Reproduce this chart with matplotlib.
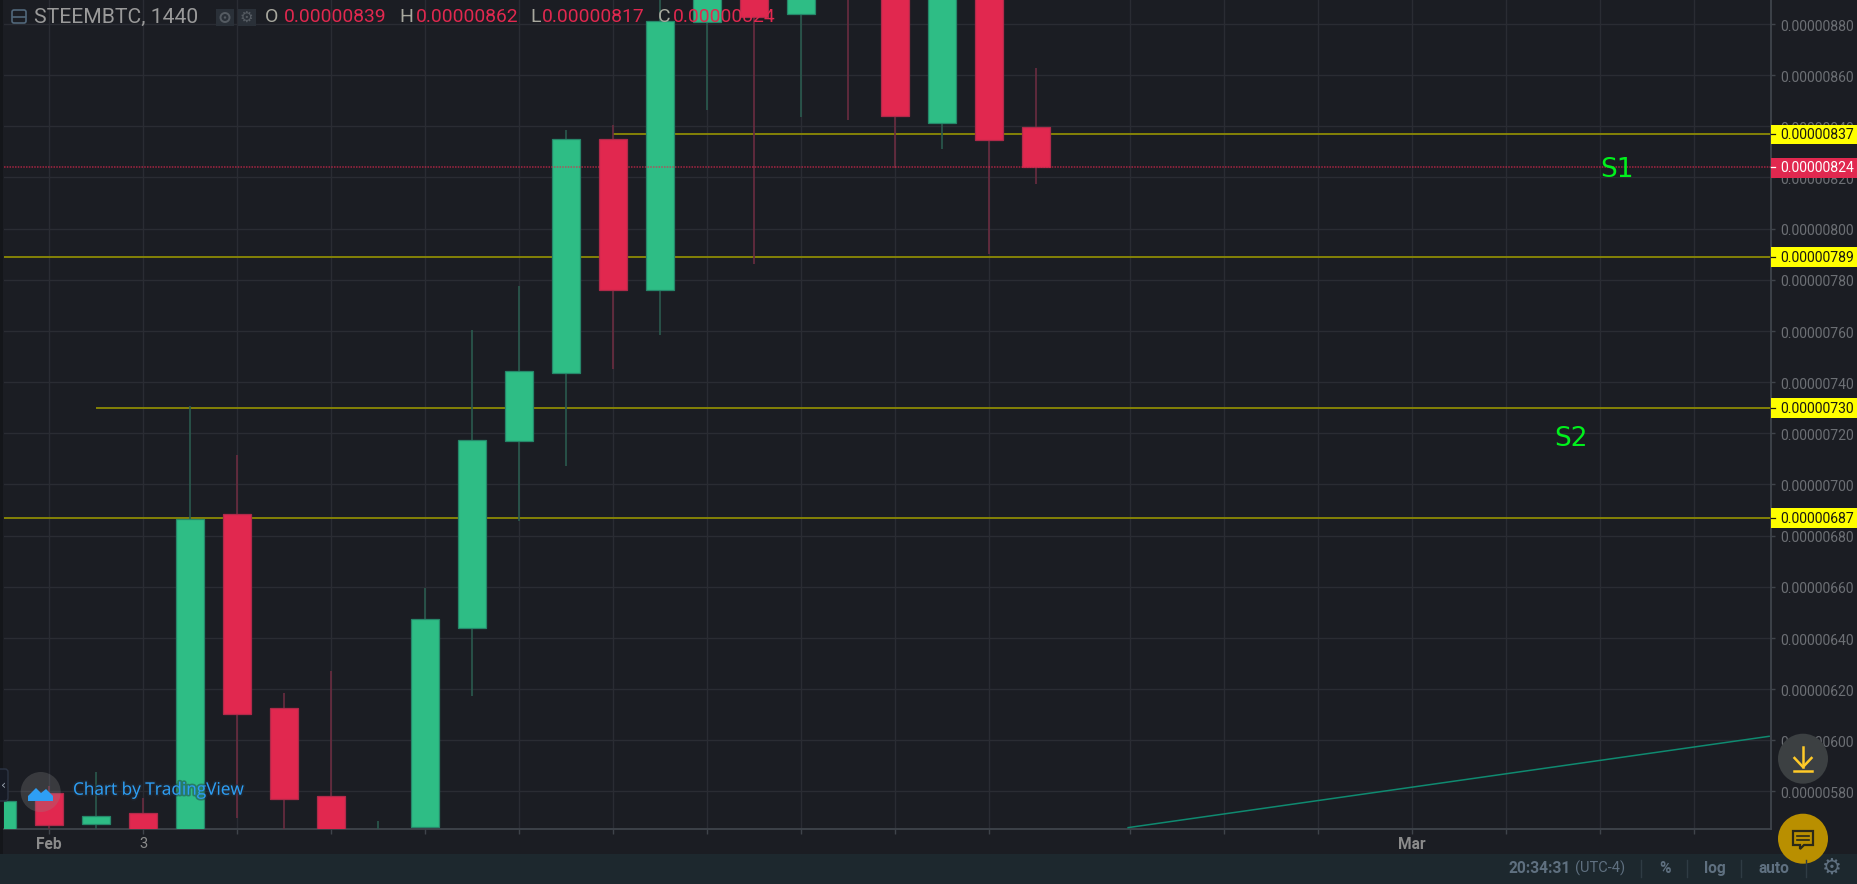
import matplotlib
matplotlib.use("Agg")
import matplotlib.pyplot as plt
import matplotlib.patheffects as pe
from matplotlib.patches import Rectangle, Circle, FancyBboxPatch, Polygon
from matplotlib.transforms import ScaledTranslation

W, H, DPI = 1857, 884, 100

# ---- data (prices in units of 1e-8 BTC, x = day slot on the chart) ----
days   = [0, 1, 2, 3, 4, 5, 6, 7, 8, 9, 10, 11, 12, 13, 14, 15, 16, 17, 18, 19, 20, 21, 22]
opens  = [560, 579.3, 567.1, 571.4, 550, 688.4, 612.4, 578.3, 555, 566.2, 643.8, 716.8, 743.7,
          835.2, 776, 880.9, 900, 884, 910, 905, 841.2, 905, 839.6]
closes = [576.3, 567, 570.5, 560, 686.5, 610.2, 576.9, 560, 562, 647.2, 717.2, 744.2, 835.2,
          776, 881.2, 900, 882.9, 900, 893, 844, 900, 834.8, 824.1]
highs  = [580, 582, 587.4, 577.4, 730.8, 711.5, 618.4, 627.2, 568.5, 659.5, 760.2, 777.4, 838.6,
          840.5, 905, 905, 905, 905, 915, 910, 905, 910, 862.7]
lows   = [550, 565, 560, 555, 540, 569.4, 560, 550, 550, 565.5, 617.4, 685.6, 707.3,
          745.1, 758.4, 846.5, 786.2, 843.6, 842.6, 823.6, 831.2, 790.1, 817.4]

level_values = [837, 789, 730, 687]
level_starts = [13, 0, 2, 0]
last_price = 824
trend_x = [23.96, 37.6]
trend_y = [565.8, 601.5]
price_ticks = list(range(580, 881, 20))
x_ticks = [1, 3, 5, 7, 9, 11, 13, 15, 17, 19, 21, 24, 26, 28, 30, 32, 34, 36]
x_tick_labels = {1: "Feb", 3: "3", 30: "Mar"}
notes = [("S1", 34.36, 822.8), ("S2", 33.38, 717.9)]
ohlc_values = ["0.00000839", "0.00000862", "0.00000817", "0.00000824"]
ohlc_names = ["O", "H", "L", "C"]

# ---- style ----
BG = "#1b1d23"; BAR = "#1d282e"; GRID = "#2a2c33"; AXIS = "#3f444b"
GREEN = "#2ebd85"; GREEN_E = "#26876a"; GREEN_W = "#2a5a4e"
RED = "#e1284f"; RED_E = "#b02a4a"; RED_W = "#6a2c40"
OLIVE = "#8c8a04"; TICKTXT = "#6c6f74"; FONT = "Roboto"

def fmt(v):
    return f"0.{int(v):08d}"

fig = plt.figure(figsize=(W / DPI, H / DPI), dpi=DPI, facecolor=BG)
L, R, T, B = 3.5, 1771, -1, 829
ax = fig.add_axes([L / W, 1 - B / H, (R - L) / W, (B - T) / H], facecolor=BG)
ax.set_xlim(0.0306, 37.64)
ax.set_ylim(565.26, 889.77)
ax.set_axisbelow(True)

# grid and ticks
ax.yaxis.tick_right()
ax.set_yticks(price_ticks)
ax.set_yticklabels([fmt(v) for v in price_ticks], fontfamily=FONT, fontsize=10.1, color=TICKTXT)
ax.set_xticks(x_ticks)
ax.set_xticklabels([x_tick_labels.get(t, "") for t in x_ticks], fontfamily=FONT, fontsize=10.5, color="#8b8b8b")
for lab, t in zip(ax.get_xticklabels(), x_ticks):
    if x_tick_labels.get(t) in ("Feb", "Mar"):
        lab.set_fontweight("bold")
        lab.set_fontsize(11.2)
ax.tick_params(axis="y", length=3, width=1, color=AXIS, pad=3.6)
ax.tick_params(axis="x", length=3.5, width=1, color=AXIS, pad=2.5)
ax.grid(True, color=GRID, lw=1.0)
for s in ("top", "left"):
    ax.spines[s].set_visible(False)
for s in ("right", "bottom"):
    ax.spines[s].set_color(AXIS)
    ax.spines[s].set_linewidth(1.3)

# y labels sit one pixel below their tick
down1 = ScaledTranslation(0, -1.2 / DPI, fig.dpi_scale_trans)
for lab in ax.get_yticklabels():
    lab.set_transform(lab.get_transform() + down1)

# horizontal levels
for v, s in zip(level_values, level_starts):
    ax.plot([s, 37.64], [v, v], color=OLIVE, lw=1.3, zorder=2, solid_capstyle="butt")

# candles
for d, o, c, h, l in zip(days, opens, closes, highs, lows):
    up = c >= o
    ax.plot([d, d], [l, h], color=GREEN_W if up else RED_W, lw=1.2, zorder=3, solid_capstyle="butt")
    ax.bar(d, abs(c - o), bottom=min(o, c), width=0.6, color=GREEN if up else RED,
           edgecolor=GREEN_E if up else RED_E, linewidth=0.9, zorder=4)

# last price line
ax.axhline(last_price, color=RED, lw=1.1, ls=(0, (1, 0.8)), alpha=0.7, zorder=5)

# trend line
ax.plot(trend_x, trend_y, color="#0f8a70", lw=1.1, zorder=3)

# notes
for txt, x, y in notes:
    ax.text(x, y, txt, color="#00f01c", fontsize=19, fontfamily="DejaVu Sans",
            ha="center", va="center", zorder=6)

# price badges on the axis
trans = ax.get_yaxis_transform()
def badge(v, face, tc):
    ax.add_patch(Rectangle((1.0, v - 4.1), 86 / (R - L), 7.8, transform=trans, facecolor=face,
                           edgecolor="none", clip_on=False, zorder=7))
    ax.plot([1.0, 1.0 + 4 / (R - L)], [v, v], transform=trans, color=tc, lw=0.9, clip_on=False, zorder=8)
    ax.text(1.0 + 9 / (R - L), v, fmt(v), transform=trans + down1, color=tc, fontfamily=FONT,
            fontsize=10.1, va="center", ha="left", clip_on=False, zorder=8)
for v in level_values:
    badge(v, "#ffff00", "#1a1a10")
badge(last_price, RED, "#ffffff")

# ---- UI overlay in pixel coordinates ----
ui = fig.add_axes([0, 0, 1, 1], facecolor="none", zorder=10)
ui.set_xlim(0, W); ui.set_ylim(H, 0); ui.axis("off")

ui.add_patch(Rectangle((0, 0), 3, 854, facecolor="#14161a", edgecolor="none"))
ui.add_patch(Rectangle((0, 854), W, 30, facecolor=BAR, edgecolor="none"))

# header
ui.add_patch(FancyBboxPatch((12, 10), 14, 13, boxstyle="round,pad=0,rounding_size=2", fc="none", ec="#51677a", lw=1.2))
ui.plot([13, 25], [16.5, 16.5], color="#51677a", lw=1.2)
ui.text(34, 17, "STEEMBTC, 1440", color="#9a9a9a", fontfamily=FONT, fontsize=15.2, va="center", ha="left")
for x0 in (216, 238):
    ui.add_patch(Rectangle((x0, 9), 18, 17, fc="#2a3038", ec="none"))
ui.add_patch(Circle((225, 17.5), 4.5, fc="none", ec="#555b62", lw=1.4))
ui.add_patch(Circle((225, 17.5), 1.2, fc="#555b62", ec="none"))
ui.text(246.5, 17.5, "\u2699", color="#555b62", fontsize=11, fontfamily="DejaVu Sans", ha="center", va="center")
for name, nx, val, vx in zip(ohlc_names, (265, 399, 530.5, 658), ohlc_values, (283.5, 416, 542, 672.5)):
    ui.text(nx, 17, name, color="#a8a89e", fontfamily=FONT, fontsize=14, va="center", ha="left")
    ui.text(vx, 17, val, color=RED, fontfamily=FONT, fontsize=13.9, va="center", ha="left")

# watermark
ui.add_patch(Circle((40.7, 792), 20, fc="#8a8a8a", ec="none", alpha=0.27))
ui.add_patch(Polygon([(28, 801), (28, 796), (36, 788), (41, 793), (46, 789), (53, 796), (53, 801)],
                     closed=True, fc="#2e9ef4", ec="none"))
ui.text(73, 790.7, "Chart by TradingView", color="#2e9ef4", fontfamily="Open Sans", fontsize=12.4,
        va="center", ha="left",
        path_effects=[pe.withStroke(linewidth=2.5, foreground="#20303f", alpha=0.45)])

# left toggle
ui.add_patch(FancyBboxPatch((-4, 769), 12, 32, boxstyle="round,pad=0,rounding_size=3", fc="#161a24", ec="#2c3444", lw=1))
ui.text(3.5, 785, "\u2039", color="#9aa4b0", fontsize=9, ha="center", va="center", fontfamily="DejaVu Sans")

# status bar
STAT = "#5f7080"
ui.text(1508.5, 868.5, "20:34:31", color=STAT, fontfamily=FONT, fontsize=11.2, fontweight="bold", va="center", ha="left")
ui.text(1575.5, 868.5, "(UTC-4)", color=STAT, fontfamily=FONT, fontsize=10.5, va="center", ha="left")
for xs in (1641, 1687, 1741, 1806):
    ui.plot([xs, xs], [860, 877], color="#2f3c44", lw=1)
ui.text(1665, 868.5, "%", color=STAT, fontfamily=FONT, fontsize=11.2, fontweight="bold", va="center", ha="center")
ui.text(1715, 868.5, "log", color=STAT, fontfamily=FONT, fontsize=11.2, fontweight="bold", va="center", ha="center")
ui.text(1774, 868.5, "auto", color=STAT, fontfamily=FONT, fontsize=11.2, fontweight="bold", va="center", ha="center")
ui.text(1831.7, 867.5, "\u2699", color=STAT, fontsize=16, fontfamily="DejaVu Sans", va="center", ha="center")

# floating buttons
ui.add_patch(Circle((1803, 758.7), 25, fc="#3c4042", ec="none"))
ARW = "#ffca28"
ui.plot([1803, 1803], [747, 767], color=ARW, lw=1.8)
ui.plot([1794.5, 1803, 1811.5], [758, 767, 758], color=ARW, lw=1.8)
ui.plot([1794, 1812], [771, 771], color=ARW, lw=1.8)
ui.add_patch(Circle((1803, 838.7), 25, fc="#b98f00", ec="none"))
ui.add_patch(Polygon([(1793, 831), (1813, 831), (1813, 845), (1804, 845), (1800, 849), (1800, 845), (1793, 845)],
                     closed=True, fc="none", ec="#2a2818", lw=1.6))
ui.plot([1797, 1809], [835.5, 835.5], color="#2a2818", lw=1.2)
ui.plot([1797, 1809], [840, 840], color="#2a2818", lw=1.2)

fig.savefig("out.png", dpi=DPI, facecolor=BG)
